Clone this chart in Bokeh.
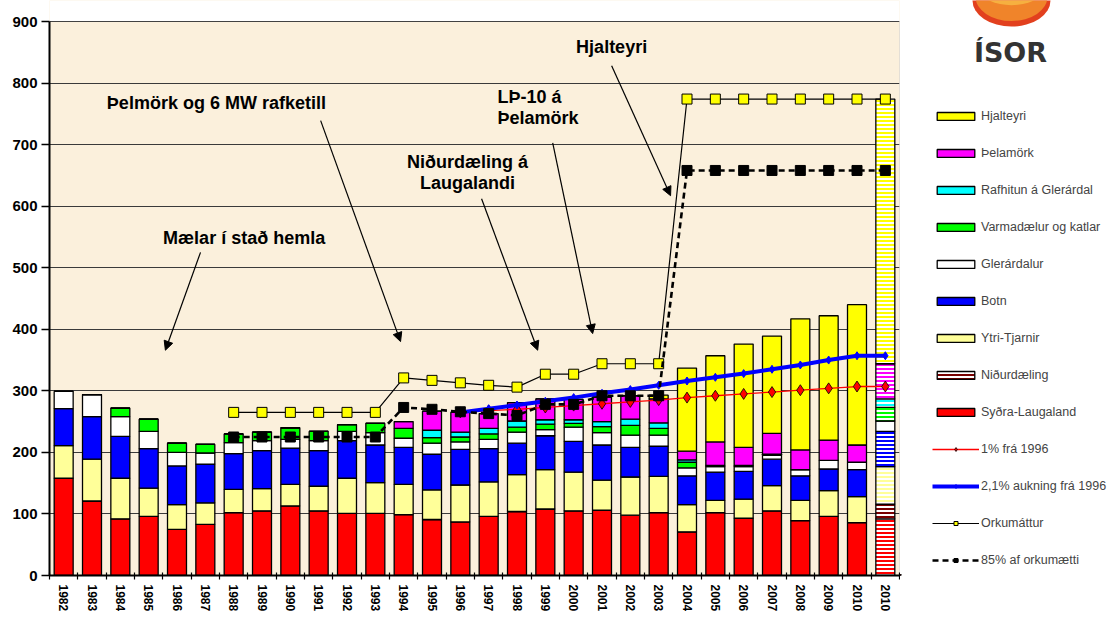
import math
from bokeh.plotting import figure
from bokeh.layouts import row
from bokeh.models import (ColumnDataSource, FixedTicker, Legend, LegendItem, Label,
                          Arrow, NormalHead, Range1d, BoxAnnotation)
from bokeh.core.properties import value
from bokeh.embed import file_html
from bokeh.resources import INLINE

# ---------------- data ----------------
years = ["1982", "1983", "1984", "1985", "1986", "1987", "1988", "1989", "1990", "1991",
         "1992", "1993", "1994", "1995", "1996", "1997", "1998", "1999", "2000", "2001",
         "2002", "2003", "2004", "2005", "2006", "2007", "2008", "2009", "2010", "2010"]

sydra_laugaland = [158, 121, 92, 96, 75, 83, 102, 105, 113, 105, 101, 101, 99, 91, 87, 96, 104, 108, 105, 106,
                   98, 102, 71, 102, 93, 105, 89, 96, 86, 92]
nidurdaeling = [0] * 29 + [24]
ytri_tjarnir = [53, 68, 66, 46, 40, 35, 38, 36, 35, 40, 57, 50, 49, 48, 60, 56, 60, 64, 63, 49,
                62, 59, 44, 20, 31, 41, 33, 42, 42, 61]
botn = [60, 69, 68, 64, 63, 63, 58, 62, 59, 58, 61, 61, 60, 58, 58, 54, 51, 55, 50, 57,
        48, 49, 47, 46, 45, 43, 40, 35, 44, 57]
glerardalur = [28, 36, 32, 28, 22, 18, 18, 16, 14, 16, 15, 20, 15, 18, 12, 15, 18, 10, 23, 20,
               20, 18, 13, 9, 8, 6, 10, 14, 12, 17]
varmadaelur = [0, 0, 14, 20, 15, 14, 14, 14, 19, 15, 11, 15, 16, 9, 8, 9, 8, 9, 6, 10,
               16, 11, 9, 2, 2, 2, 0, 0, 0, 22]
rafhitun = [0, 0, 0, 0, 0, 0, 0, 0, 0, 0, 0, 0, 0, 12, 8, 9, 10, 7, 6, 8,
            10, 9, 4, 0, 0, 0, 0, 0, 0, 14]
thelamork = [0, 0, 0, 0, 0, 0, 0, 0, 0, 0, 0, 0, 11, 31, 32, 24, 30, 34, 33, 40,
             38, 39, 14, 38, 29, 34, 32, 33, 28, 57]
hjalteyri = [0] * 21 + [6, 135, 140, 168, 158, 213, 202, 228, 430]

nan = float("nan")
orkumattur = [nan] * 6 + [265, 265, 265, 265, 265, 265, 321, 317, 313, 309, 306, 327, 327, 344,
                          344, 344, 774, 774, 774, 774, 774, 774, 774, 774]
orkumaetti_85 = [nan] * 6 + [225, 225, 225, 225, 225, 225, 273, 270, 266, 263, 260, 278, 278, 292,
                             292, 292, 658, 658, 658, 658, 658, 658, 658, 658]
eitt_prosent = [nan] * 14 + [265, 268, 270, 273, 276, 279, 282, 285, 289, 292, 295, 298, 301, 304, 307, 307]
tveir_komma_eitt = [nan] * 14 + [265, 271, 277, 283, 289, 296, 302, 309, 316, 322, 328, 335, 342, 350, 357, 357]

series_names = ["Syðra-Laugaland", "Niðurdæling", "Ytri-Tjarnir", "Botn", "Glerárdalur",
                "Varmadælur og katlar", "Rafhitun á Glerárdal", "Þelamörk", "Hjalteyri"]
series_vals = [sydra_laugaland, nidurdaeling, ytri_tjarnir, botn, glerardalur,
               varmadaelur, rafhitun, thelamork, hjalteyri]
colors = ["#FF0000", "#7A0000", "#FFFF99", "#0000FF", "#FFFFFF", "#00FF00", "#00FFFF", "#FF00FF", "#FFFF00"]

line_names = ["1% frá 1996", "2,1% aukning frá 1996", "Orkumáttur", "85% af orkumætti"]

YMAX = 900

n = len(years)
xs = list(range(n))
keys = ["s%d" % i for i in range(len(series_vals))]
data = {"x": xs}
for k, v in zip(keys, series_vals):
    data[k] = v
src_reg = ColumnDataSource({k: v[:-1] for k, v in data.items()})
src_cap = ColumnDataSource({k: v[-1:] for k, v in data.items()})

FONT = "Liberation Sans"
H = 617
TOP_PAD = 21          # white band above the plot area, px
FRAME_H = H - 42      # frame height in px (frame starts at top of canvas)
y_top = YMAX * FRAME_H / (FRAME_H - TOP_PAD)

p = figure(width=900, height=H, x_range=Range1d(-0.5, n - 0.5), y_range=Range1d(0, y_top),
           output_backend="svg", toolbar_location=None, title=None,
           min_border_left=49, min_border_right=1, min_border_top=0, min_border_bottom=42)
p.background_fill_color = "#FBF0DC"
p.border_fill_color = "white"
p.outline_line_color = None

# white band above the value range and a thin border round the plot area
p.add_layout(BoxAnnotation(bottom=YMAX + 0.8, fill_color="white", fill_alpha=1, line_alpha=0, level="underlay"))
p.add_layout(BoxAnnotation(left=-0.5, right=n - 0.5, bottom=0, top=YMAX, fill_alpha=0,
                           line_color="#555555", line_width=1, level="underlay"))

# axes
p.xgrid.visible = False
p.ygrid.grid_line_color = "#3A3A3A"
p.ygrid.grid_line_width = 1
p.yaxis.ticker = FixedTicker(ticks=list(range(0, YMAX + 1, 100)))
p.yaxis.bounds = (0, YMAX)
p.yaxis.major_label_text_font = FONT
p.yaxis.major_label_text_font_style = "bold"
p.yaxis.major_label_text_font_size = "15px"
p.yaxis.major_label_text_color = "black"
p.yaxis.major_tick_out = 8
p.yaxis.major_tick_in = 0
p.yaxis.minor_tick_line_color = None
p.yaxis.axis_line_width = 2
p.yaxis.axis_line_color = "black"
p.yaxis.major_tick_line_width = 1.5
p.yaxis.major_label_standoff = 4

p.xaxis.ticker = FixedTicker(ticks=xs, minor_ticks=[i - 0.5 for i in range(n + 1)])
p.xaxis.major_label_overrides = {i: years[i] for i in xs}
p.xaxis.major_label_orientation = -math.pi / 2
p.xaxis.major_label_text_font = FONT
p.xaxis.major_label_text_font_style = "bold"
p.xaxis.major_label_text_font_size = "12px"
p.xaxis.major_label_text_color = "black"
p.xaxis.major_tick_out = 0
p.xaxis.major_tick_in = 0
p.xaxis.minor_tick_out = 4
p.xaxis.minor_tick_in = 3
p.xaxis.minor_tick_line_color = "black"
p.xaxis.minor_tick_line_width = 1.2
p.xaxis.axis_line_width = 2
p.xaxis.axis_line_color = "black"
p.xaxis.major_label_standoff = 5

# bars
bw = 0.67
bar_style = dict(line_color="black", line_width=1.3)
hatch_style = dict(hatch_pattern="horizontal_line", hatch_color="white", hatch_scale=4, hatch_weight=2)
reg = p.vbar_stack(keys, x="x", width=bw, fill_color=colors, source=src_reg, **bar_style)
cap = p.vbar_stack(keys, x="x", width=bw, fill_color=colors, source=src_cap, **bar_style, **hatch_style)

# lines
l1 = dict(color="#FF0000", line_width=1.3)
m1 = dict(marker="diamond", size=11, fill_color="#FF0000", line_color="black", line_width=0.8)
l2 = dict(color="#0000FF", line_width=4)
m2 = dict(marker="diamond", size=8, fill_color="#0000FF", line_color="#0000FF")
l3 = dict(color="black", line_width=1.2)
m3 = dict(marker="square", size=10, fill_color="#FFFF00", line_color="black", line_width=1)
l4 = dict(color="black", line_width=2.6, line_dash="6 4")
m4 = dict(marker="square", size=10, fill_color="black", line_color="black")
line_styles = [(l1, m1), (l2, m2), (l3, m3), (l4, m4)]
line_vals = [eitt_prosent, tveir_komma_eitt, orkumattur, orkumaetti_85]
for vals, (ls, ms) in zip(line_vals, line_styles):
    p.line(xs, vals, **ls)
    p.scatter(xs, vals, **ms)

# annotations
def lab(x, y, text, align="center"):
    p.add_layout(Label(x=x, y=y, text=text, text_font=FONT, text_font_style="bold",
                       text_font_size="18px", text_align=align, text_baseline="middle",
                       text_color="black"))

def arr(x0, y0, x1, y1):
    p.add_layout(Arrow(end=NormalHead(size=9, fill_color="black", line_color="black", line_width=1),
                       x_start=x0, y_start=y0, x_end=x1, y_end=y1,
                       line_color="black", line_width=1.2))

lab(6.37, 549, "Mælar í stað hemla")
arr(4.83, 525, 3.59, 366)
lab(5.39, 767, "Þelmörk og 6 MW rafketill")
arr(9.07, 739, 11.89, 380)
lab(14.25, 671, "Niðurdæling á")
lab(14.25, 637, "Laugalandi")
arr(14.75, 612, 16.73, 366)
lab(15.31, 778, "LÞ-10 á", align="left")
lab(15.31, 744, "Þelamörk", align="left")
arr(17.26, 703, 18.67, 393)
lab(19.34, 858, "Hjalteyri")
arr(19.34, 828, 21.42, 617)

# ---------------- side panel: logo + legend ----------------
W2 = 211
q = figure(width=W2, height=H, x_range=Range1d(0, W2), y_range=Range1d(0, H),
           output_backend="svg", toolbar_location=None, title=None,
           x_axis_location=None, y_axis_location=None,
           min_border=0, min_border_left=0, min_border_right=0, min_border_top=0, min_border_bottom=0)
q.grid.visible = False
q.outline_line_color = None
q.background_fill_color = "white"
q.border_fill_color = "white"

# logo
q.ellipse(x=[111], y=[H], width=78, height=56, fill_color="#E2401E", line_color=None)
q.ellipse(x=[111], y=[H + 4], width=72, height=52, fill_color="#F0842A", line_color=None)
q.ellipse(x=[111], y=[H + 10], width=60, height=30, fill_color="#F6B040", line_color=None)
q.text(x=[110], y=[H - 56], text=["ÍSOR"], text_font=value("DejaVu Sans"), text_font_size="27px",
       text_font_style="bold", text_align="center", text_baseline="alphabetic", text_color="#333333")

# legend (off-screen proxy glyphs with the same styles)
OFF = -1000
items = []
for i in reversed(range(len(series_names))):
    extra = hatch_style if series_names[i] == "Niðurdæling" else {}
    r = q.vbar(x=[OFF], top=[1], width=1, fill_color=colors[i], **bar_style, **extra)
    items.append(LegendItem(label=series_names[i], renderers=[r]))
for name, (ls, ms) in zip(line_names, line_styles):
    rl = q.line(x=[OFF, OFF + 1], y=[0, 0], **ls)
    rm = q.scatter(x=[OFF], y=[0], **ms)
    items.append(LegendItem(label=name, renderers=[rl, rm]))
legend = Legend(items=items, location=(32, 8), orientation="vertical",
                glyph_width=47, glyph_height=10, label_height=10, label_standoff=2,
                spacing=23, padding=0, margin=0,
                label_text_font=FONT, label_text_font_size="12.5px",
                background_fill_alpha=0, border_line_color=None)
q.add_layout(legend)

layout = row(p, q, spacing=0)
open("out.html", "w").write(file_html(layout, INLINE))
